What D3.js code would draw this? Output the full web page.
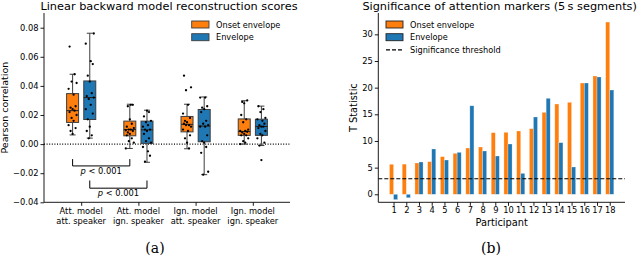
<!DOCTYPE html>
<html>
<head>
<meta charset="utf-8" />
<title>Reconstruction scores and attention markers</title>
<style>
    body { margin: 0; background: #fff; }
    svg text { font-family: "DejaVu Sans", sans-serif; fill: #000; }
    .cap { font-family: "DejaVu Serif", "Liberation Serif", serif; }
</style>
</head>
<body>
<svg id="fig" width="640" height="258"></svg>
<script src="https://cdn.jsdelivr.net/npm/d3@7"></script>
<script>
// ---- panel (a) data ----
var conditions = [["Att. model", "att. speaker"], ["Att. model", "ign. speaker"],
                  ["Ign. model", "att. speaker"], ["Ign. model", "ign. speaker"]];
var seriesNames = ["Onset envelope", "Envelope"];
// box stats per condition: [whiskerLow, q1, median, q3, whiskerHigh]
var onsetBoxes = [[0.0063, 0.0149, 0.0230, 0.0347, 0.0480],
                  [-0.0030, 0.0057, 0.0100, 0.0158, 0.0274],
                  [-0.0032, 0.0084, 0.0136, 0.0190, 0.0274],
                  [0.0000, 0.0060, 0.0086, 0.0173, 0.0298]];
var envBoxes = [[0.0041, 0.0169, 0.0320, 0.0434, 0.0762],
                [-0.0125, 0.0005, 0.0098, 0.0158, 0.0233],
                [-0.0210, 0.0016, 0.0124, 0.0238, 0.0324],
                [-0.0010, 0.0060, 0.0121, 0.0171, 0.0261]];
// per-participant scores
var onsetPoints = [
    [0.067, 0.048, 0.043, 0.042, 0.038, 0.034, 0.026, 0.025, 0.024, 0.023, 0.022, 0.020, 0.018, 0.016, 0.013, 0.011, 0.009, 0.007],
    [0.027, 0.027, 0.026, 0.017, 0.014, 0.012, 0.011, 0.010, 0.010, 0.0095, 0.009, 0.008, 0.007, 0.006, 0.004, 0.002, 0.001, -0.003],
    [0.047, 0.039, 0.037, 0.027, 0.021, 0.018, 0.016, 0.015, 0.014, 0.013, 0.013, 0.012, 0.010, 0.009, 0.006, 0.004, 0.001, -0.003],
    [0.030, 0.029, 0.028, 0.020, 0.017, 0.015, 0.010, 0.009, 0.009, 0.0085, 0.008, 0.007, 0.006, 0.006, 0.004, 0.002, 0.001, 0.000]];
var envPoints = [
    [0.076, 0.069, 0.057, 0.055, 0.047, 0.043, 0.035, 0.033, 0.032, 0.031, 0.027, 0.024, 0.021, 0.017, 0.012, 0.009, 0.006, 0.004],
    [0.023, 0.022, 0.019, 0.016, 0.015, 0.013, 0.012, 0.010, 0.010, 0.009, 0.007, 0.004, 0.002, 0.001, -0.002, -0.005, -0.008, -0.012],
    [0.032, 0.032, 0.026, 0.025, 0.024, 0.022, 0.016, 0.014, 0.013, 0.012, 0.012, 0.006, 0.002, 0.001, -0.002, -0.006, -0.019, -0.021],
    [0.026, 0.024, 0.022, 0.018, 0.017, 0.016, 0.014, 0.013, 0.012, 0.012, 0.011, 0.009, 0.007, 0.006, 0.004, 0.001, -0.001, -0.011]];
var jitter = [-3, 2, -1, 4, -4, 1, 3, -2, 0, 2, -3, 4, -1, 1, -4, 3, -2, 0];
var yTicksA = [-0.04, -0.02, 0, 0.02, 0.04, 0.06, 0.08];

// ---- panel (b) data ----
var participants = [1, 2, 3, 4, 5, 6, 7, 8, 9, 10, 11, 12, 13, 14, 15, 16, 17, 18];
var onsetT = [5.63, 5.66, 5.87, 6.12, 7.06, 7.68, 8.68, 8.87, 11.56, 11.63, 11.87, 12.31, 15.37, 16.93, 17.25, 20.87, 22.18, 32.3];
var envT = [-1.0, -0.65, 6.06, 8.5, 6.43, 7.87, 16.6, 8.12, 7.18, 9.43, 3.93, 14.5, 18.0, 9.68, 5.12, 20.87, 22.0, 19.56];
var threshold = 2.92;
var yTicksB = [0, 5, 10, 15, 20, 25, 30];

!(function() {
    "use strict"
    var svg = d3.select("#fig")
    var orange = "#ff7f0e", blue = "#1f77b4", edge = "#3d3d3d"
    var tickFont = "8.3px"

    // ================= panel (a) =================
    var a = { left: 44, right: 290, top: 13, bottom: 202.3 }
    var xA = d3.scaleLinear().domain([0.35, 4.65]).range([a.left, a.right])
    var yA = d3.scaleLinear().domain([-0.04, 0.0901]).range([a.bottom, a.top])
    var gA = svg.append("g")

    gA.append("text").attr("x", (a.left + a.right) / 2 + 2).attr("y", 10)
        .attr("text-anchor", "middle").style("font-size", "11.3px")
        .text("Linear backward model reconstruction scores")

    // zero line
    gA.append("line").attr("x1", a.left).attr("x2", a.right)
        .attr("y1", yA(0)).attr("y2", yA(0))
        .attr("stroke", "#000").attr("stroke-width", 1.1).attr("stroke-dasharray", "1,1.6")

    var off = 0.15, boxW = 12
    var boxSets = [
        { boxes: onsetBoxes, pts: onsetPoints, color: orange, dx: -off },
        { boxes: envBoxes, pts: envPoints, color: blue, dx: off }
    ]
    boxSets.forEach(function(set, si) {
        set.boxes.forEach(function(b, ci) {
            var cx = xA(ci + 1 + set.dx)
            var g = gA.append("g")
            // whiskers
            g.append("line").attr("x1", cx).attr("x2", cx).attr("y1", yA(b[0])).attr("y2", yA(b[1]))
                .attr("stroke", edge).attr("stroke-width", 1)
            g.append("line").attr("x1", cx).attr("x2", cx).attr("y1", yA(b[3])).attr("y2", yA(b[4]))
                .attr("stroke", edge).attr("stroke-width", 1)
            ;[b[0], b[4]].forEach(function(v) {
                g.append("line").attr("x1", cx - boxW / 4).attr("x2", cx + boxW / 4)
                    .attr("y1", yA(v)).attr("y2", yA(v)).attr("stroke", edge).attr("stroke-width", 1)
            })
            g.append("rect").attr("x", cx - boxW / 2).attr("width", boxW)
                .attr("y", yA(b[3])).attr("height", yA(b[1]) - yA(b[3]))
                .attr("fill", set.color).attr("stroke", edge).attr("stroke-width", 1)
            g.append("line").attr("x1", cx - boxW / 2).attr("x2", cx + boxW / 2)
                .attr("y1", yA(b[2])).attr("y2", yA(b[2])).attr("stroke", "#222").attr("stroke-width", 1)
            // jittered participant points
            g.selectAll("circle").data(set.pts[ci]).enter().append("circle")
                .attr("cx", function(d, i) { return cx + jitter[(i + ci * 5 + si * 3) % jitter.length] })
                .attr("cy", function(d) { return yA(d) })
                .attr("r", 1.15).attr("fill", "#000")
        })
    })

    // significance brackets
    var brackets = [{ s: -off, top: -0.0103, bot: -0.0150, lab: -0.0205 },
                    { s: off, top: -0.0250, bot: -0.0303, lab: -0.0355 }]
    brackets.forEach(function(br) {
        var x1 = xA(1 + br.s), x2 = xA(2 + br.s)
        gA.append("path")
            .attr("d", "M" + x1 + "," + yA(br.top) + "V" + yA(br.bot) + "H" + x2 + "V" + yA(br.top))
            .attr("fill", "none").attr("stroke", "#000").attr("stroke-width", 1)
        var t = gA.append("text").attr("x", (x1 + x2) / 2).attr("y", yA(br.lab))
            .attr("text-anchor", "middle").style("font-size", tickFont)
        t.append("tspan").style("font-style", "italic").text("p")
        t.append("tspan").text(" < 0.001")
    })

    // axes
    var axA = gA.append("g").attr("transform", "translate(" + a.left + ",0)")
        .call(d3.axisLeft(yA).tickValues(yTicksA).tickFormat(d3.format(".2f")).tickSize(3.5).tickPadding(2))
    var axAx = gA.append("g").attr("transform", "translate(0," + a.bottom + ")")
        .call(d3.axisBottom(xA).tickValues([1, 2, 3, 4]).tickFormat("").tickSize(3.5))
    ;[axA, axAx].forEach(function(ax) {
        ax.select(".domain").attr("stroke", "#000").attr("stroke-width", 0.9)
        ax.selectAll(".tick line").attr("stroke", "#000").attr("stroke-width", 0.9)
        ax.selectAll("text").style("font-size", tickFont).attr("fill", "#000")
        ax.attr("font-family", null)
    })
    axAx.select(".domain").attr("d", "M" + a.left + ",0H" + a.right)
    axA.select(".domain").attr("d", "M0," + a.top + "V" + a.bottom)

    conditions.forEach(function(c, i) {
        c.forEach(function(line, j) {
            gA.append("text").attr("x", xA(i + 1)).attr("y", 213.8 + j * 10)
                .attr("text-anchor", "middle").style("font-size", tickFont).text(line)
        })
    })

    gA.append("text").attr("transform", "translate(8.2," + (a.top + a.bottom) / 2 + ") rotate(-90)")
        .attr("text-anchor", "middle").style("font-size", "9.5px").text("Pearson correlation")

    // legend
    ;[orange, blue].forEach(function(col, i) {
        var ly = 21 + i * 12.7
        gA.append("rect").attr("x", 191.7).attr("y", ly).attr("width", 17.3).attr("height", 7)
            .attr("fill", col).attr("stroke", edge).attr("stroke-width", 0.9)
        gA.append("text").attr("x", 216).attr("y", ly + 6.6).style("font-size", "8.2px").text(seriesNames[i])
    })

    gA.append("text").attr("class", "cap").attr("x", 155).attr("y", 253)
        .attr("text-anchor", "middle").style("font-size", "14px").text("(a)")

    // ================= panel (b) =================
    var b = { left: 378.3, right: 625, top: 13, bottom: 202.3 }
    var xB = d3.scaleLinear().domain([-0.2, 19.2]).range([b.left, b.right])
    var yB = d3.scaleLinear().domain([-1.5, 34]).range([b.bottom, b.top])
    var gB = svg.append("g")
    var bw = 0.32

    gB.append("text").attr("x", (b.left + b.right) / 2 - 2).attr("y", 10)
        .attr("text-anchor", "middle").style("font-size", "11.3px")
        .text("Significance of attention markers (5\u2009s segments)")

    function bars(vals, color, shift) {
        gB.append("g").selectAll("rect").data(vals).enter().append("rect")
            .attr("x", function(d, i) { return xB(participants[i] + shift) })
            .attr("width", xB(bw) - xB(0))
            .attr("y", function(d) { return yB(Math.max(0, d)) })
            .attr("height", function(d) { return Math.abs(yB(d) - yB(0)) })
            .attr("fill", color).attr("stroke", "rgba(255,255,255,0.45)").attr("stroke-width", 0.6)
    }
    bars(onsetT, orange, -bw)
    bars(envT, blue, 0)

    gB.append("line").attr("x1", b.left).attr("x2", b.right)
        .attr("y1", yB(threshold)).attr("y2", yB(threshold))
        .attr("stroke", "#000").attr("stroke-width", 1.2).attr("stroke-dasharray", "4,2")

    var axB = gB.append("g").attr("transform", "translate(" + b.left + ",0)")
        .call(d3.axisLeft(yB).tickValues(yTicksB).tickSize(3.5).tickPadding(2))
    var axBx = gB.append("g").attr("transform", "translate(0," + b.bottom + ")")
        .call(d3.axisBottom(xB).tickValues(participants).tickFormat(d3.format("d")).tickSize(3.5).tickPadding(1.5))
    ;[axB, axBx].forEach(function(ax) {
        ax.select(".domain").attr("stroke", "#000").attr("stroke-width", 0.9)
        ax.selectAll(".tick line").attr("stroke", "#000").attr("stroke-width", 0.9)
        ax.selectAll("text").style("font-size", tickFont).attr("fill", "#000")
        ax.attr("font-family", null)
    })
    axBx.select(".domain").attr("d", "M" + b.left + ",0H" + b.right)
    axB.select(".domain").attr("d", "M0," + b.top + "V" + b.bottom)

    gB.append("text").attr("x", xB(9.5)).attr("y", 226)
        .attr("text-anchor", "middle").style("font-size", "9.8px").text("Participant")
    gB.append("text").attr("transform", "translate(356.5," + (b.top + b.bottom) / 2 + ") rotate(-90)")
        .attr("text-anchor", "middle").style("font-size", "9.8px").text("T Statistic")

    // legend
    var legB = [{ t: seriesNames[0], c: orange }, { t: seriesNames[1], c: blue }, { t: "Significance threshold", c: null }]
    legB.forEach(function(d, i) {
        var ly = 21 + i * 12.7
        if (d.c) {
            gB.append("rect").attr("x", 386).attr("y", ly).attr("width", 17).attr("height", 7)
                .attr("fill", d.c).attr("stroke", "#222").attr("stroke-width", 0.9)
        } else {
            gB.append("line").attr("x1", 386).attr("x2", 403).attr("y1", ly + 3.5).attr("y2", ly + 3.5)
                .attr("stroke", "#000").attr("stroke-width", 1.2).attr("stroke-dasharray", "4,2")
        }
        gB.append("text").attr("x", 410).attr("y", ly + 6.6).style("font-size", "8.2px").text(d.t)
    })

    gB.append("text").attr("class", "cap").attr("x", 491).attr("y", 253)
        .attr("text-anchor", "middle").style("font-size", "14px").text("(b)")
}());
</script>
</body>
</html>
